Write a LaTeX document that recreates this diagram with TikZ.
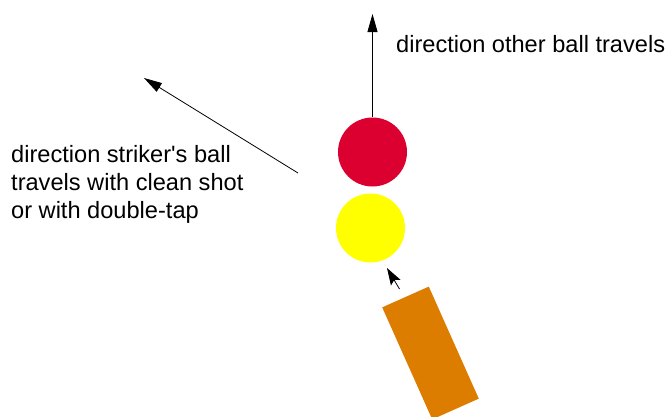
\documentclass[tikz,border=0pt]{standalone}
\usepackage{fontspec}
\setmainfont{Liberation Sans}
\usetikzlibrary{arrows.meta}
\definecolor{ballred}{RGB}{220,0,48}
\definecolor{ballyellow}{RGB}{255,255,0}
\definecolor{cueorange}{RGB}{221,125,0}
\begin{document}
\begin{tikzpicture}[x=1pt,y=-1pt,
  ball/.style={circle,minimum size=69pt,inner sep=0pt,draw=none},
  label/.style={inner sep=0pt,anchor=base west,font=\fontsize{23.6}{28}\selectfont},
  arr/.style={line width=0.8pt,-{Triangle[length=18pt,width=10pt]}},
  smallarr/.style={line width=0.8pt,-{Stealth[length=17pt,width=11pt,inset=3pt]}}]
\useasboundingbox (0,0) rectangle (666,416);
\node[ball,fill=ballred] (red) at (372.5,152) {};
\node[ball,fill=ballyellow] (yellow) at (370.5,228) {};
\node[fill=cueorange,minimum width=122.7pt,minimum height=51pt,inner sep=0pt,rotate=-65.94] (cue) at (430.5,353) {};
\coordinate (uptip) at (372.5,14);
\coordinate (lstart) at (298,173);
\coordinate (ltip) at (144,78);
\coordinate (sstart) at (399.5,289);
\coordinate (stip) at (387,268);
\draw[arr] (red.north) -- (uptip);
\draw[arr] (lstart) -- (ltip);
\draw[smallarr] (sstart) -- (stip);
\node[label] (other) at (396,52.7) {direction other ball travels};
\node[label] (s1) at (11,162) {direction striker\textquotesingle s ball};
\node[label] (s2) at (11,190) {travels with clean shot};
\node[label] (s3) at (11,218) {or with double-tap};
\end{tikzpicture}
\end{document}
